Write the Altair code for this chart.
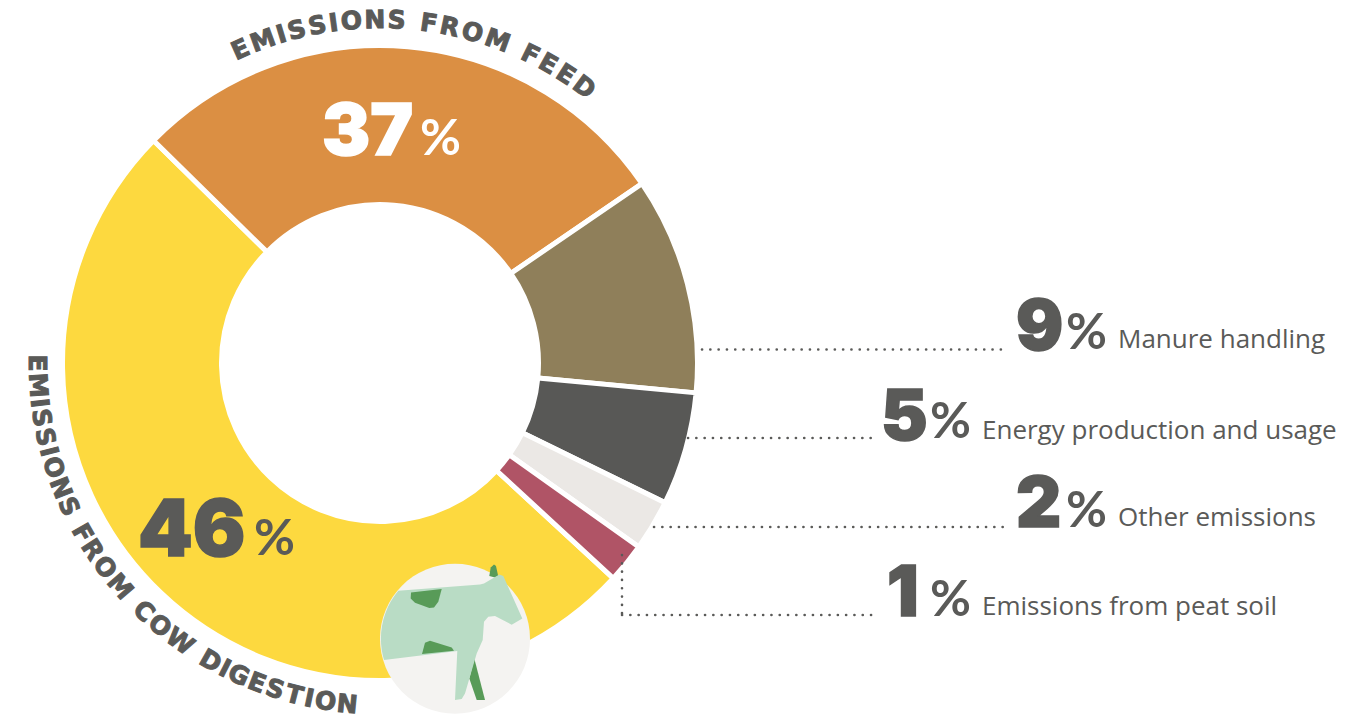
import altair as alt
import pandas as pd

INK = "#5a5a58"
DISPLAY = "Inter"
RING_FONT = "DejaVu Sans"
BODY = "Open Sans"

# ---- slices (drawn angular share, degrees) ----
slices = ["Cow digestion", "Feed", "Manure handling", "Energy production and usage", "Other emissions", "Emissions from peat soil"]
degrees = [181.8, 101.1, 39.8, 20.7, 9.3, 7.3]
slice_colors = ["#fdd93f", "#db8f43", "#8f7f5a", "#585856", "#ebe8e5", "#b05466"]

# ---- labels ----
pct_values = ["37", "46", "9", "5", "2", "1"]
row_labels = ["Manure handling", "Energy production and usage", "Other emissions", "Emissions from peat soil"]
curved_top = "EMISSIONS FROM FEED"
curved_left = "EMISSIONS FROM COW DIGESTION"

# ---- layout (page px minus the 8 px margin) ----
CX, CY = 372, 355
TAU = 6.283185307
START = 132.7 / 360 * TAU


def px(v):
    return v - 8


arcs = (
    alt.Chart(pd.DataFrame({"name": slices, "deg": degrees, "color": slice_colors, "ord": range(6)}))
    .mark_arc(x=CX, y=CY, innerRadius=158.5, outerRadius=317.5, stroke="white", strokeWidth=5)
    .encode(
        theta=alt.Theta("deg:Q", stack=True, scale=alt.Scale(domain=[0, 360], range=[START, START + TAU])),
        color=alt.Color("color:N", scale=None),
        order=alt.Order("ord:Q"),
    )
)

# leader lines
lead_x = [702, 688, 654, 622]
lead_x2 = [1005, 878, 1007, 878]
lead_y = [349.5, 438, 527, 615]
leaders_h = (
    alt.Chart(pd.DataFrame({"x": [px(v) for v in lead_x], "x2": [px(v) for v in lead_x2], "y": [px(v) for v in lead_y]}))
    .mark_rule(color=INK, strokeWidth=2.6, strokeDash=[0.1, 8.2], strokeCap="round")
    .encode(x=alt.X("x:Q", scale=None), x2="x2:Q", y=alt.Y("y:Q", scale=None))
)
leaders_v = (
    alt.Chart(pd.DataFrame({"x": [px(622)], "y": [px(555)], "y2": [px(615)]}))
    .mark_rule(color=INK, strokeWidth=2.6, strokeDash=[0.1, 8.2], strokeCap="round")
    .encode(x=alt.X("x:Q", scale=None), y=alt.Y("y:Q", scale=None), y2="y2:Q")
)

# big numbers
num_x = [322, 138, 1016, 881, 1016, 887]
num_y = [155, 556, 350, 440, 527, 616]
num_size = [72, 78, 70, 70, 70, 70]
num_col = ["#ffffff", INK, INK, INK, INK, INK]
numbers = (
    alt.Chart(pd.DataFrame({"t": pct_values, "x": [px(v) for v in num_x], "y": [px(v) for v in num_y], "s": num_size, "c": num_col}))
    .mark_text(font=DISPLAY, fontWeight=900, align="left", baseline="alphabetic", strokeWidth=1.5)
    .encode(
        x=alt.X("x:Q", scale=None), y=alt.Y("y:Q", scale=None),
        text="t:N", size=alt.Size("s:Q", scale=None),
        color=alt.Color("c:N", scale=None), stroke=alt.Stroke("c:N", scale=None),
    )
)

pct_x = [420, 254, 1066, 930, 1066, 930]
pct_y = [155, 555, 349, 438, 527, 616]
pct_col = num_col
percents = (
    alt.Chart(pd.DataFrame({"t": ["%"] * 6, "x": [px(v) for v in pct_x], "y": [px(v) for v in pct_y], "c": pct_col}))
    .mark_text(font="Lato", fontWeight="bold", fontSize=50, align="left", baseline="alphabetic")
    .encode(x=alt.X("x:Q", scale=None), y=alt.Y("y:Q", scale=None), text="t:N", color=alt.Color("c:N", scale=None))
)

lab_x = [1118, 982, 1118, 982]
lab_y = [348, 439, 526, 615]
labels = (
    alt.Chart(pd.DataFrame({"t": row_labels, "x": [px(v) for v in lab_x], "y": [px(v) for v in lab_y]}))
    .mark_text(font=BODY, fontSize=26, align="left", baseline="alphabetic", color=INK)
    .encode(x=alt.X("x:Q", scale=None), y=alt.Y("y:Q", scale=None), text="t:N")
)


# curved titles: one text mark per letter, placed around the ring
def advance(ch):
    return {"I": 0.5, "M": 1.25, " ": 0.55, "W": 1.35, "O": 1.12, "E": 0.92, "F": 0.88, "S": 0.95, "D": 1.08}.get(ch, 1.0)


def ring(text, start, end):
    w = [advance(c) for c in text]
    pos, cur = [], 0.0
    for a in w:
        pos.append(cur + a / 2)
        cur += a
    f0, f1 = pos[0], pos[-1]
    return [start + (end - start) * (p - f0) / (f1 - f0) for p in pos]


top_theta = ring(curved_top, -24.0, 36.5)
left_theta = ring(curved_left, 270.0, 185.5)
ring_df = pd.DataFrame({
    "ch": list(curved_top) + list(curved_left),
    "theta": [t % 360 for t in top_theta] + left_theta,
    "rot": [t % 360 for t in top_theta] + [t - 180 for t in left_theta],
})
ring_text = (
    alt.Chart(ring_df)
    .mark_text(x=CX, y=CY, radius=343, font=RING_FONT, fontWeight="bold", fontSize=25, color=INK, stroke=INK,
               strokeWidth=1.0, align="center", baseline="middle")
    .encode(
        theta=alt.Theta("theta:Q", stack=False, scale=alt.Scale(domain=[0, 360], range=[0, TAU])),
        angle=alt.Angle("rot:Q", scale=None),
        text="ch:N",
    )
)

# cow badge
ZX, ZY = 285, 266


def shape(points, close=True):
    out = []
    for i, p in enumerate(points):
        if isinstance(p, str):
            out.append(p)
        else:
            out.append(("M" if i == 0 else "L") + f"{(p[0]-ZX)/3:.1f},{(p[1]-ZY)/3:.1f}")
    return "".join(out) + ("Z" if close else "")


ear = shape([(388, 78), (392, 52), (402, 43), (408, 48), (416, 85)])
back_leg = shape([(343, 325), (375, 450), (350, 450), (328, 385)])
body = shape([
    (115, 122), (360, 103), (372, 100), (418, 73), (430, 78), (487, 205), (455, 224), (405, 198), (385, 200),
    (372, 215), (368, 270), (350, 310), (315, 430), (305, 447), (285, 450), (292, 303), (72, 330),
    f"A75,75 0 0 1 {(115-ZX)/3:.1f},{(122-ZY)/3:.1f}",
])
spot1 = shape([(153, 127), (245, 117), (235, 155), (222, 172), (208, 174), (165, 158), (152, 145)])
spot2 = shape([(186, 312), (195, 278), (210, 272), (275, 292), (282, 302)])

badge_x, badge_y = px(455), px(638.7)
badge_df = pd.DataFrame({"x": [badge_x], "y": [badge_y]})
badge = (
    alt.Chart(badge_df)
    .mark_point(filled=True, shape="circle", size=22500, color="#f4f3f1", opacity=1)
    .encode(x=alt.X("x:Q", scale=None), y=alt.Y("y:Q", scale=None))
)


def cow_part(path, color):
    return (
        alt.Chart(badge_df)
        .mark_point(filled=True, shape=path, size=4, color=color, opacity=1, strokeWidth=0)
        .encode(x=alt.X("x:Q", scale=None), y=alt.Y("y:Q", scale=None))
    )


chart = alt.layer(
    arcs, ring_text, leaders_h, leaders_v, numbers, percents, labels, badge,
    cow_part(ear, "#589b58"), cow_part(back_leg, "#589b58"), cow_part(body, "#b9dcc5"),
    cow_part(spot1, "#589b58"), cow_part(spot2, "#589b58"),
).resolve_scale(theta="independent").properties(
    width=1356, height=710, padding=0, background="white", autosize=alt.AutoSizeParams(type="none"),
).configure_view(stroke=None)

chart.save("out.html", embed_options={"renderer": "svg", "actions": False})
